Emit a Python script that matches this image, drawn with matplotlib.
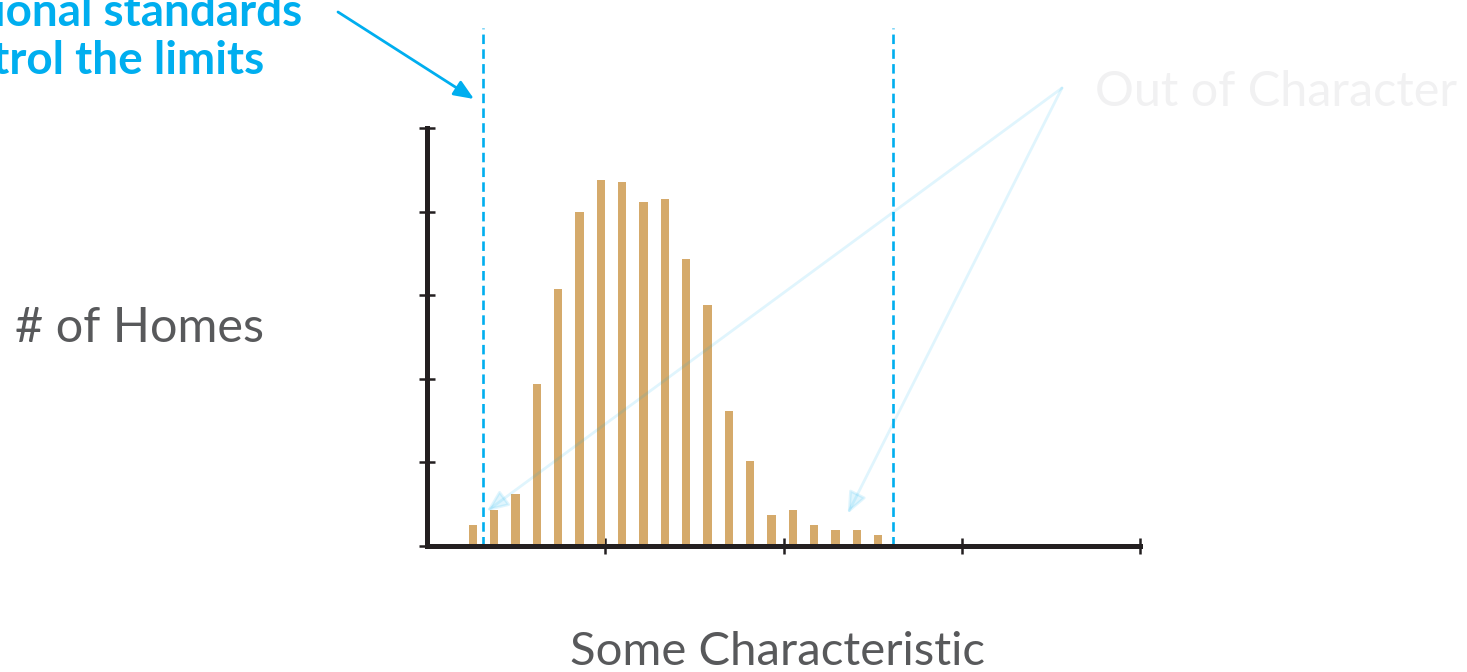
import matplotlib
matplotlib.use("Agg")
import matplotlib.pyplot as plt

# ---- data ----
bin_centers = [0.257, 0.377, 0.496, 0.616, 0.736, 0.856, 0.975, 1.095, 1.215, 1.334,
               1.454, 1.574, 1.693, 1.813, 1.933, 2.053, 2.172, 2.292, 2.412, 2.528]
home_counts = [0.24, 0.43, 0.62, 1.93, 3.07, 3.99, 4.38, 4.35, 4.11, 4.15,
               3.43, 2.88, 1.61, 1.01, 0.37, 0.43, 0.24, 0.19, 0.19, 0.12]
limits = [0.314, 2.614]
x_ticks = [1, 2, 3, 4]
y_ticks = [0, 1, 2, 3, 4, 5]

W, H = 1467, 672
BAR = "#D5AA6B"
BLUE = "#00AEEF"
DARK = "#231F20"
GRAY = "#58595B"
FONT = "Lato"

fig = plt.figure(figsize=(W / 100, H / 100), dpi=100)
fig.patch.set_facecolor("white")

left, right, top, bottom = 427, 1140, 128, 545.5
ax = fig.add_axes([left / W, (H - bottom) / H, (right - left) / W, (bottom - top) / H])
ax.set_xlim(0, 4)
ax.set_ylim(0, 5)
ax.patch.set_alpha(0)

ax.bar(bin_centers, home_counts, width=0.046, color=BAR, zorder=2)

for lim in limits:
    ax.plot([lim, lim], [0, 6.2], color=BLUE, lw=1.9, linestyle=(0, (3.6, 2.0)),
            clip_on=False, zorder=3)

for s in ["top", "right"]:
    ax.spines[s].set_visible(False)
for s in ["left", "bottom"]:
    ax.spines[s].set_linewidth(3.6)
    ax.spines[s].set_color(DARK)
    ax.spines[s].set_capstyle("projecting")
    ax.spines[s].set_zorder(4)

ax.set_xticks(x_ticks)
ax.set_yticks(y_ticks)
ax.tick_params(axis="both", direction="inout", length=12, width=1.8, color=DARK,
               labelbottom=False, labelleft=False)

# ---- texts ----
def fx(px):
    return px / W

def fy(py):
    return (H - py) / H

fig.text(fx(15), fy(328), "# of Homes", fontsize=35, color=GRAY, family=FONT,
         ha="left", va="center")
fig.text(fx(778), fy(665), "Some Characteristic", fontsize=34, color=GRAY, family=FONT,
         ha="center", va="baseline")
fig.text(fx(1095), fy(106), "Out of Character", fontsize=35, color="#F1F1F2", family=FONT,
         ha="left", va="baseline")
fig.text(fx(-82), fy(26), "National standards", fontsize=33,
         color=BLUE, family=FONT, fontweight="bold", ha="left", va="baseline")
fig.text(fx(-82), fy(74), "control the limits", fontsize=33,
         color=BLUE, family=FONT, fontweight="bold", ha="left", va="baseline")

# ---- arrows ----
ax.annotate("", xy=(474, H - 99), xycoords="figure pixels",
            xytext=(338, H - 12), textcoords="figure pixels",
            arrowprops=dict(arrowstyle="-|>,head_length=1.2,head_width=0.5",
                            color=BLUE, lw=2, shrinkA=0, shrinkB=0),
            annotation_clip=False)

for tip in [(0.335, 0.41), (2.36, 0.38)]:
    ax.annotate("", xy=tip, xycoords="data",
                xytext=(1062, H - 88), textcoords="figure pixels",
                arrowprops=dict(arrowstyle="-|>,head_length=1.3,head_width=0.55",
                                color=BLUE, alpha=0.12, lw=2, shrinkA=0, shrinkB=0),
                annotation_clip=False, zorder=5)

fig.savefig("out.png", dpi=100, facecolor="white")
